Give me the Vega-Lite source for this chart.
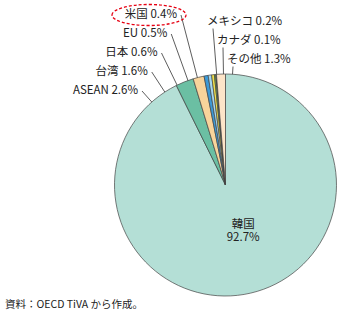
{
  "$schema": "https://vega.github.io/schema/vega-lite/v6.json",
  "width": 222,
  "height": 222,
  "autosize": {"type": "none"},
  "padding": {"left": 114.5, "top": 74, "right": 5.5, "bottom": 24},
  "background": "white",
  "config": {
    "view": {"stroke": null},
    "font": "Noto Sans CJK JP",
    "text": {"font": "Noto Sans CJK JP"}
  },
  "title": {
    "text": "資料：OECD TiVA から作成。",
    "orient": "bottom",
    "anchor": "start",
    "frame": "group",
    "dx": -109.5,
    "offset": 3,
    "fontSize": 10.5,
    "fontWeight": "normal",
    "font": "Noto Sans CJK JP",
    "color": "#222222"
  },
  "data": {
    "values": [
      {"idx": 1, "name": "韓国", "value": 92.7, "label": "韓国 92.7%", "side": "inside"},
      {"idx": 2, "name": "ASEAN", "value": 2.6, "label": "ASEAN 2.6%", "side": "left"},
      {"idx": 3, "name": "台湾", "value": 1.6, "label": "台湾 1.6%", "side": "left"},
      {"idx": 4, "name": "日本", "value": 0.6, "label": "日本 0.6%", "side": "left"},
      {"idx": 5, "name": "EU", "value": 0.5, "label": "EU 0.5%", "side": "left"},
      {"idx": 6, "name": "米国", "value": 0.4, "label": "米国 0.4%", "side": "left"},
      {"idx": 7, "name": "メキシコ", "value": 0.2, "label": "メキシコ 0.2%", "side": "right"},
      {"idx": 8, "name": "カナダ", "value": 0.1, "label": "カナダ 0.1%", "side": "right"},
      {"idx": 9, "name": "その他", "value": 1.3, "label": "その他 1.3%", "side": "right"}
    ]
  },
  "layer": [
    {
      "transform": [{"filter": "datum.side === 'left'"}],
      "encoding": {
        "x": {"field": "name", "type": "nominal", "axis": null,
              "scale": {"type": "point", "domain": ["ASEAN", "台湾", "日本", "EU", "米国"], "range": [23.5, 62.5], "padding": 0}},
        "y": {"field": "name", "type": "nominal", "axis": null,
              "scale": {"type": "point", "domain": ["米国", "EU", "日本", "台湾", "ASEAN"], "range": [-59, 17], "padding": 0}}
      },
      "layer": [
        {
          "mark": {"type": "rule", "xOffset": 4, "stroke": "#333333", "strokeWidth": 0.8},
          "encoding": {
            "x2": {"value": {"expr": "width/2"}},
            "y2": {"value": {"expr": "height/2"}}
          }
        },
        {
          "mark": {"type": "text", "align": "right", "baseline": "middle", "fontSize": 11.5, "fill": "#222222"},
          "encoding": {"text": {"field": "label"}}
        },
        {
          "transform": [{"filter": "datum.name === '米国'"}],
          "mark": {"type": "point", "shape": "M-1,0A1,0.284,0,1,1,1,0A1,0.284,0,1,1,-1,0Z", "size": 5476,
                   "filled": false, "stroke": "#e60012", "strokeWidth": 1.3, "strokeDash": [3, 2], "opacity": 1, "xOffset": -28}
        }
      ]
    },
    {
      "transform": [{"filter": "datum.side === 'right'"}],
      "encoding": {
        "x": {"field": "name", "type": "nominal", "axis": null,
              "scale": {"type": "point", "domain": ["メキシコ", "カナダ", "その他"], "range": [92.5, 112.5], "padding": 0}},
        "y": {"field": "name", "type": "nominal", "axis": null,
              "scale": {"type": "point", "domain": ["メキシコ", "カナダ", "その他"], "range": [-52.5, -14.5], "padding": 0}}
      },
      "layer": [
        {
          "mark": {"type": "rule", "xOffset": 6, "yOffset": 7, "stroke": "#333333", "strokeWidth": 0.8},
          "encoding": {
            "x2": {"value": {"expr": "width/2"}},
            "y2": {"value": {"expr": "height/2"}}
          }
        },
        {
          "mark": {"type": "text", "align": "left", "baseline": "middle", "fontSize": 11.5, "fill": "#222222"},
          "encoding": {"text": {"field": "label"}}
        }
      ]
    },
    {
      "encoding": {
        "theta": {"field": "value", "type": "quantitative", "stack": true},
        "order": {"field": "idx", "type": "quantitative"}
      },
      "layer": [
        {
          "mark": {"type": "arc", "stroke": "#444444", "strokeWidth": 0.7},
          "encoding": {
            "color": {"field": "name", "type": "nominal", "legend": null,
                      "scale": {"domain": ["韓国", "ASEAN", "台湾", "日本", "EU", "米国", "メキシコ", "カナダ", "その他"],
                                "range": ["#b4dfd6", "#6bbfa3", "#f8d49b", "#3d9ad6", "#a6d7ef", "#f2e14a", "#7fbf4d", "#555555", "#fde4c8"]}}
          }
        },
        {
          "mark": {"type": "text", "radius": 47, "dx": 7, "dy": -6, "fontSize": 11.5, "lineBreak": " ", "lineHeight": 13,
                   "fill": "#222222"},
          "encoding": {
            "detail": {"field": "name"},
            "text": {"condition": {"test": "datum.name === '韓国'", "field": "label"}, "value": ""}
          }
        }
      ]
    }
  ],
  "resolve": {"scale": {"x": "independent", "y": "independent"}}
}
